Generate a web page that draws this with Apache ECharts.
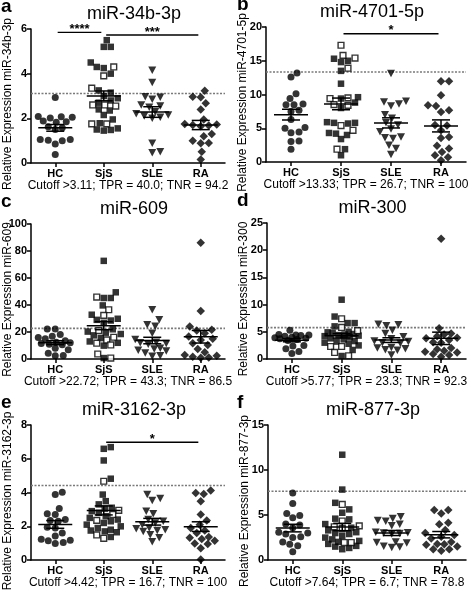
<!DOCTYPE html>
<html><head><meta charset="utf-8">
<script src="https://cdn.jsdelivr.net/npm/echarts/dist/echarts.min.js"></script>
<style>html,body{margin:0;padding:0;background:#fff}#c{width:472px;height:590px}</style>
</head><body><div id="c"></div>
<script>
// ---------- DATA ----------
const groups = ['HC', 'SjS', 'SLE', 'RA'];
const letters = ['a', 'b', 'c', 'd', 'e', 'f'];
const titles = ['miR-34b-3p', 'miR-4701-5p', 'miR-609', 'miR-300', 'miR-3162-3p', 'miR-877-3p'];
const yMaxes = [6, 20, 100, 25, 8, 15];
const ySteps = [2, 5, 20, 5, 2, 5];
const cutoffs = [3.11, 13.33, 22.72, 5.77, 4.42, 7.64];
const notes = [
  'Cutoff >3.11; TPR = 40.0; TNR = 94.2',
  'Cutoff >13.33; TPR = 26.7; TNR = 100',
  'Cutoff >22.72; TPR = 43.3; TNR = 86.5',
  'Cutoff >5.77; TPR = 23.3; TNR = 92.3',
  'Cutoff >4.42; TPR = 16.7; TNR = 100',
  'Cutoff >7.64; TPR = 6.7; TNR = 78.8'
];

// a: miR-34b-3p
const hc_34b = [2.93, 2.07, 2.05, 2.02, 2.08, 1.85, 1.88, 1.82, 1.62, 1.58, 1.5, 1.05, 1.02, 1.0, 1.05, 0.85, 0.38];
const sjsFilled_34b = [5.5, 5.2, 5.2, 4.5, 4.25, 4.3, 4.0, 3.25, 3.15, 3.0, 2.9, 2.8, 2.7, 2.4, 2.35, 2.15, 1.95, 1.78, 1.55, 1.5, 1.48, 1.45];
const sjsOpen_34b = [4.3, 3.9, 3.35, 2.6, 2.55, 2.6, 1.75, 1.75];
const sle_34b = [4.15, 3.6, 2.97, 2.94, 2.85, 2.6, 2.55, 2.5, 2.3, 2.2, 2.15, 2.1, 2.05, 2.0, 0.88, 0.5, 0.46];
const ra_34b = [3.24, 2.97, 2.94, 2.67, 2.4, 1.95, 1.75, 1.72, 1.7, 1.68, 1.65, 1.3, 1.2, 1.0, 0.9, 0.88, 0.5, 0.16];
const sig_34b = [{from: 0, to: 1, y: 5.85, label: '****'}, {from: 1, to: 3, y: 5.73, label: '***'}];

// b: miR-4701-5p
const hc_4701 = [13.2, 12.6, 10.1, 9.4, 8.6, 8.5, 8.5, 7.65, 7.5, 6.3, 5.0, 5.1, 4.45, 4.35, 3.1, 3.05, 1.9];
const sjsFilled_4701 = [15.0, 14.8, 15.3, 13.5, 11.6, 9.6, 9.4, 8.8, 8.0, 5.8, 5.8, 5.7, 5.9, 4.2, 4.3, 4.0, 3.4, 1.9, 1.0];
const sjsOpen_4701 = [17.3, 15.4, 15.8, 13.9, 9.4, 9.5, 8.5, 8.4, 5.4, 4.7, 1.9];
const sle_4701 = [13.1, 9.0, 8.9, 8.6, 8.3, 7.0, 6.5, 5.8, 5.5, 4.9, 4.5, 3.7, 3.6, 3.5, 2.5, 2.0, 1.1];
const ra_4701 = [11.95, 11.95, 9.9, 8.4, 8.3, 7.65, 7.4, 5.5, 5.4, 4.7, 3.7, 3.55, 2.4, 2.0, 1.5, 1.0, 0.7, 0.25];
const sig_4701 = [{from: 1, to: 3, y: 19.0, label: '*'}];

// c: miR-609
const hc_609 = [22.3, 22.3, 18.1, 16.9, 16.0, 15.0, 13.5, 12.5, 12.0, 11.5, 11.0, 10.5, 8.0, 6.8, 4.2, 2.6, 2.4];
const sjsFilled_609 = [72.7, 49.4, 45.2, 45.2, 39.7, 32.8, 29.8, 28.5, 26.8, 29.0, 22.0, 20.3, 19.5, 18.5, 17.5, 15.5, 13.0, 12.0, 9.9, 0.7];
const sjsOpen_609 = [45.9, 36.5, 32.3, 21.0, 16.1, 14.1, 11.7, 10.4, 3.7, 0.7];
const sle_609 = [36.5, 29.0, 25.3, 24.3, 19.1, 14.5, 12.5, 12.0, 11.5, 11.0, 8.0, 7.4, 6.5, 6.0, 4.5, 2.5, 2.0];
const ra_609 = [86.1, 35.5, 24.1, 21.6, 21.1, 19.0, 14.0, 16.6, 15.0, 11.7, 10.4, 7.4, 5.0, 3.0, 2.5, 1.7, 1.2, 1.0];
const sig_609 = [];

// d: miR-300
const hc_300 = [5.3, 4.5, 4.4, 4.4, 4.3, 4.2, 4.0, 3.9, 3.8, 3.7, 3.6, 3.4, 2.5, 2.4, 1.9, 1.4, 1.0];
const sjsFilled_300 = [10.9, 7.8, 6.6, 6.6, 6.0, 5.0, 4.9, 4.8, 4.6, 4.5, 4.4, 4.3, 4.2, 4.0, 3.8, 3.6, 3.3, 3.2, 3.0, 2.8, 2.5, 1.66, 0.55];
const sjsOpen_300 = [7.4, 5.8, 5.2, 2.3, 2.3, 1.2, 0.6];
const sle_300 = [6.4, 6.3, 6.1, 5.3, 4.7, 4.1, 3.7, 3.3, 3.2, 3.0, 2.9, 2.1, 2.0, 1.9, 1.7, 1.6, 0.75];
const ra_300 = [22.1, 5.65, 4.7, 4.5, 4.2, 3.9, 3.8, 3.5, 3.1, 3.0, 2.0, 1.8, 1.5, 1.35, 1.2, 0.9, 0.74, 0.43];
const sig_300 = [];

// e: miR-3162-3p
const hc_3162 = [4.02, 3.88, 3.06, 2.75, 2.7, 2.4, 2.35, 2.3, 1.95, 1.9, 1.6, 1.43, 1.24, 1.18, 1.04, 0.98, 1.14];
const sjsFilled_3162 = [6.69, 6.59, 5.9, 4.82, 3.88, 3.49, 3.3, 3.1, 3.05, 2.9, 2.8, 2.6, 2.5, 2.4, 2.3, 2.2, 2.1, 2.0, 1.9, 1.8, 1.75, 1.7, 1.65, 1.37];
const sjsOpen_3162 = [4.67, 2.95, 2.7, 2.35, 1.49, 1.29];
const sle_3162 = [3.88, 3.65, 3.53, 2.9, 2.75, 2.4, 2.3, 2.2, 2.1, 1.9, 1.85, 1.8, 1.75, 1.7, 1.5, 1.33, 1.08];
const ra_3162 = [4.12, 3.98, 3.92, 3.49, 2.7, 2.35, 2.1, 1.9, 1.76, 1.6, 1.37, 1.33, 1.25, 1.15, 0.98, 0.95, 0.7, 0.03];
const sig_3162 = [{from: 1, to: 3, y: 6.98, label: '*'}];

// f: miR-877-3p
const hc_877 = [7.46, 6.29, 5.18, 4.96, 4.7, 4.0, 3.9, 3.6, 3.1, 3.0, 2.9, 2.6, 2.5, 2.0, 1.76, 1.58, 0.92];
const sjsFilled_877 = [11.7, 7.83, 6.36, 5.63, 5.26, 4.6, 4.52, 4.0, 3.6, 3.3, 3.1, 3.0, 2.9, 2.7, 2.5, 2.3, 2.13, 2.02, 1.8, 1.58, 1.5, 1.35, 1.21];
const sjsOpen_877 = [6.18, 4.34, 3.8, 3.7, 3.5, 1.95, 1.95];
const sle_877 = [4.8, 4.63, 4.4, 4.3, 3.97, 3.8, 3.1, 3.05, 3.0, 2.95, 2.9, 2.0, 1.95, 1.9, 1.55, 1.45, 1.4];
const ra_877 = [5.55, 5.55, 5.18, 4.15, 3.97, 3.35, 3.0, 2.8, 2.6, 2.4, 2.0, 1.8, 1.76, 1.7, 1.5, 1.21, 1.21, 1.03];
const sig_877 = [];

// ---------- BUILD ----------
const panelData = [
  [hc_34b, sjsFilled_34b, sjsOpen_34b, sle_34b, ra_34b, sig_34b],
  [hc_4701, sjsFilled_4701, sjsOpen_4701, sle_4701, ra_4701, sig_4701],
  [hc_609, sjsFilled_609, sjsOpen_609, sle_609, ra_609, sig_609],
  [hc_300, sjsFilled_300, sjsOpen_300, sle_300, ra_300, sig_300],
  [hc_3162, sjsFilled_3162, sjsOpen_3162, sle_3162, ra_3162, sig_3162],
  [hc_877, sjsFilled_877, sjsOpen_877, sle_877, ra_877, sig_877]
];

const FONT = '"Liberation Sans", Arial, Helvetica, sans-serif';
const gridRects = [
  {left: 31, top: 29, width: 194, height: 134},
  {left: 266, top: 27, width: 200, height: 135},
  {left: 31, top: 224, width: 194, height: 135},
  {left: 267, top: 223, width: 199, height: 136},
  {left: 31, top: 425, width: 194, height: 136},
  {left: 268, top: 425, width: 198, height: 136}
];

// beeswarm offsets (pixels) computed from values so markers do not overlap
function swarm(vals, pxY, D, maxOff) {
  const idx = vals.map((v, i) => i).sort((a, b) => vals[a] - vals[b]);
  const placed = [];
  const off = new Array(vals.length).fill(0);
  for (const i of idx) {
    const y = vals[i] * pxY;
    let best = 0, bestScore = -1;
    for (let k = 0; k <= 2 * maxOff; k++) {
      const dx = k === 0 ? 0 : (k % 2 === 1 ? (k + 1) / 2 : -k / 2);
      let md = Infinity;
      for (const p of placed) {
        const d = Math.hypot(p[0] - dx, p[1] - y);
        if (d < md) md = d;
      }
      if (md >= D) { best = dx; bestScore = Infinity; break; }
      if (md > bestScore) { bestScore = md; best = dx; }
    }
    placed.push([best, y]);
    off[i] = best;
  }
  return off;
}

function meanSem(vals) {
  const n = vals.length;
  const m = vals.reduce((a, b) => a + b, 0) / n;
  const sd = Math.sqrt(vals.reduce((a, b) => a + (b - m) * (b - m), 0) / (n - 1));
  return [m, sd / Math.sqrt(n)];
}

const grid = [], xAxis = [], yAxis = [], series = [], graphic = [];

panelData.forEach((pd, i) => {
  const [hc, sjsF, sjsO, sle, ra, sig] = pd;
  const g = gridRects[i];
  grid.push(Object.assign({containLabel: false}, g));
  const pxX = g.width / 4, pxY = g.height / yMaxes[i];

  xAxis.push({
    type: 'category', gridIndex: i, data: groups, boundaryGap: true,
    axisLine: {onZero: false, lineStyle: {color: '#000', width: 1.5}},
    axisTick: {show: true, alignWithLabel: true, length: 4, lineStyle: {color: '#000', width: 1.5}},
    axisLabel: {interval: 0, color: '#000', fontWeight: 'bold', fontSize: 11, fontFamily: FONT, margin: 5},
    name: notes[i], nameLocation: 'middle', nameGap: 16,
    nameTextStyle: {color: '#000', fontSize: 12, fontFamily: FONT}
  });
  xAxis.push({type: 'value', gridIndex: i, min: -0.5, max: 3.5, show: false});
  yAxis.push({
    type: 'value', gridIndex: i, min: 0, max: yMaxes[i], interval: ySteps[i],
    axisLine: {show: true, onZero: false, lineStyle: {color: '#000', width: 1.5}},
    axisTick: {show: true, length: 4, lineStyle: {color: '#000', width: 1.5}},
    axisLabel: {color: '#000', fontWeight: 'bold', fontSize: 11, fontFamily: FONT, margin: 4},
    splitLine: {show: false}
  });
  const xi = 2 * i + 1;

  // cutoff dotted line
  series.push({
    type: 'custom', xAxisIndex: xi, yAxisIndex: i, silent: true, z: 2,
    data: [[-0.5, cutoffs[i]]],
    renderItem: function (params, api) {
      const p1 = api.coord([-0.5, api.value(1)]);
      const p2 = api.coord([3.5, api.value(1)]);
      return {type: 'line', shape: {x1: p1[0], y1: p1[1], x2: p2[0], y2: p2[1]},
        style: {stroke: '#7a7a7a', lineWidth: 1.6, lineDash: [2, 1.5]}};
    }
  });

  // swarm layout per group
  const sjsAll = sjsF.concat(sjsO);
  const offHC = swarm(hc, pxY, 7.2, 17);
  const offSjS = swarm(sjsAll, pxY, 7.0, 17);
  const offSLE = swarm(sle, pxY, 7.4, 17);
  const offRA = swarm(ra, pxY, 7.6, 17);

  const base = {type: 'scatter', xAxisIndex: xi, yAxisIndex: i, silent: true, z: 3};
  series.push(Object.assign({}, base, {
    symbol: 'circle', symbolSize: 7, itemStyle: {color: '#000'},
    data: hc.map((v, k) => [0 + offHC[k] / pxX, v])
  }));
  series.push(Object.assign({}, base, {
    symbol: 'rect', symbolSize: 6.5, itemStyle: {color: '#000'},
    data: sjsF.map((v, k) => [1 + offSjS[k] / pxX, v])
  }));
  series.push(Object.assign({}, base, {
    symbol: 'rect', symbolSize: 5.8, itemStyle: {color: '#fff', borderColor: '#000', borderWidth: 1.4},
    data: sjsO.map((v, k) => [1 + offSjS[sjsF.length + k] / pxX, v])
  }));
  series.push(Object.assign({}, base, {
    symbol: 'triangle', symbolRotate: 180, symbolSize: [8, 7.5], itemStyle: {color: '#000'},
    data: sle.map((v, k) => [2 + offSLE[k] / pxX, v])
  }));
  series.push(Object.assign({}, base, {
    symbol: 'diamond', symbolSize: 8.5, itemStyle: {color: '#000'},
    data: ra.map((v, k) => [3 + offRA[k] / pxX, v])
  }));

  // mean +/- SEM
  const stats = [hc, sjsAll, sle, ra].map((vals, gi) => [gi].concat(meanSem(vals)));
  series.push({
    type: 'custom', xAxisIndex: xi, yAxisIndex: i, silent: true, z: 5,
    data: stats,
    renderItem: function (params, api) {
      const x = api.value(0), m = api.value(1), s = api.value(2);
      const c = api.coord([x, m]), t = api.coord([x, m + s]), b = api.coord([x, m - s]);
      const st = {stroke: '#000', lineWidth: 1.5};
      return {type: 'group', children: [
        {type: 'line', shape: {x1: c[0] - 17, y1: c[1], x2: c[0] + 17, y2: c[1]}, style: st},
        {type: 'line', shape: {x1: c[0] - 9, y1: t[1], x2: c[0] + 9, y2: t[1]}, style: st},
        {type: 'line', shape: {x1: c[0] - 9, y1: b[1], x2: c[0] + 9, y2: b[1]}, style: st},
        {type: 'line', shape: {x1: c[0], y1: t[1], x2: c[0], y2: b[1]}, style: st}
      ]};
    }
  });

  // significance bars
  if (sig.length) {
    series.push({
      type: 'custom', xAxisIndex: xi, yAxisIndex: i, silent: true, z: 6,
      data: sig.map(s => [s.from + 0.05, s.y, s.to - 0.05]),
      renderItem: function (params, api) {
        const p1 = api.coord([api.value(0), api.value(1)]);
        const p2 = api.coord([api.value(2), api.value(1)]);
        return {type: 'group', children: [
          {type: 'line', shape: {x1: p1[0], y1: p1[1], x2: p2[0], y2: p2[1]}, style: {stroke: '#000', lineWidth: 1.4}},
          {type: 'text', x: (p1[0] + p2[0]) / 2, y: p1[1] - 3,
            style: {text: sig[params.dataIndex].label, fill: '#000', font: 'bold 13px ' + FONT, align: 'center', verticalAlign: 'middle'}}
        ]};
      }
    });
  }

  // panel letter, title, y-axis name
  const colLeft = i % 2 === 0 ? 0 : 236;
  graphic.push({type: 'text', x: colLeft + 1, y: g.top - 22,
    style: {text: letters[i], font: 'bold 19px ' + FONT, fill: '#000', align: 'left', verticalAlign: 'middle'}});
  graphic.push({type: 'text', x: g.left + g.width / 2 + 6, y: g.top - 15,
    style: {text: titles[i], font: '18px ' + FONT, fill: '#000', align: 'center', verticalAlign: 'middle'}});
  graphic.push({type: 'text', x: g.left - 23, y: g.top + g.height / 2 + 8, rotation: Math.PI / 2,
    style: {text: 'Relative Expression ' + titles[i], font: '12px ' + FONT, fill: '#000', align: 'center', verticalAlign: 'middle'}});
});

const chart = echarts.init(document.getElementById('c'), null, {renderer: 'canvas'});
chart.setOption({
  animation: false,
  backgroundColor: '#fff',
  grid, xAxis, yAxis, series, graphic
});
</script></body></html>
